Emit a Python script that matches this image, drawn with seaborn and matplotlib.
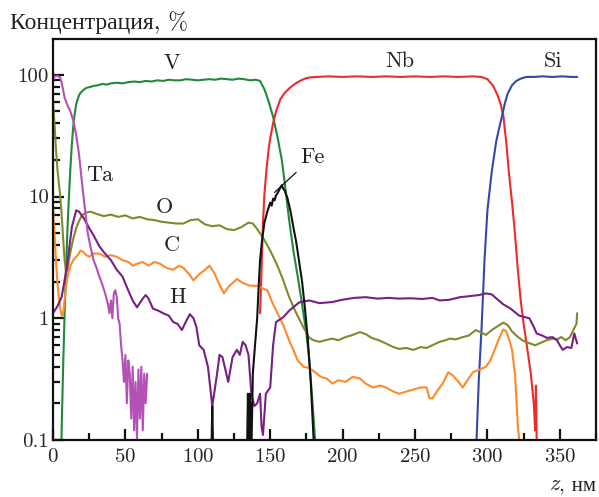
import matplotlib
matplotlib.use("Agg")
import matplotlib.pyplot as plt
import seaborn as sns
import pandas as pd
from matplotlib.ticker import FixedLocator, NullFormatter

# depth profile, z in nm, concentration in %
v_z = [5.8, 7, 8, 9, 10, 11, 12, 13, 14, 15, 16, 17, 18, 19, 21, 23, 25, 28, 31, 34, 37, 40, 44,
       48, 52, 56, 60, 64, 68, 72, 76, 80, 84, 88, 92, 96, 100, 104, 108, 112, 116, 120, 124,
       128, 132, 136, 140, 143, 146, 149, 152, 155, 158, 160, 163, 166, 169, 172, 175, 177, 179, 181]
v_c = [0.1, 0.4, 1.1, 2.6, 5.5, 10, 17, 27, 38, 48, 57, 63, 68, 71, 75, 78, 79, 81, 82, 84, 83, 85,
       86, 85, 87, 88, 87, 89, 88, 90, 89, 91, 90, 90, 92, 91, 90, 91, 92, 91, 93, 92, 91, 93, 92,
       90, 91, 89, 76, 60, 45, 31, 20, 13, 6.5, 3.6, 2.2, 1.3, 0.75, 0.45, 0.22, 0.1]

ta_z = [0, 1, 3, 5, 6, 7, 8, 10, 12, 14, 16, 18, 20, 22, 24, 26, 28, 30, 32, 34, 36, 38, 39, 40,
        41, 42, 43, 44, 45, 46, 47, 48, 49, 50, 51, 52, 53, 54, 55, 56, 57, 58, 59, 60, 61, 62,
        63, 64, 65]
ta_c = [90, 97, 98, 95, 85, 75, 65, 56, 50, 42, 32, 22, 13, 8, 5, 3.8, 3.0, 2.6, 2.2, 1.9, 1.6,
        1.3, 1.1, 1.4, 1.0, 1.6, 1.7, 1.5, 1.0, 0.9, 0.6, 0.45, 0.3, 0.5, 0.2, 0.45, 0.35, 0.15,
        0.4, 0.12, 0.3, 0.1, 0.38, 0.15, 0.4, 0.12, 0.35, 0.2, 0.35]

o_z = [0, 1, 2, 3, 4, 5, 6, 7, 8, 9, 10, 12, 14, 16, 18, 20, 23, 26, 30, 35, 40, 45, 50, 55, 60,
       65, 70, 75, 80, 85, 90, 95, 100, 105, 110, 115, 120, 125, 130, 135, 138, 141, 145, 150,
       155, 159, 163, 168, 173, 177, 180, 184, 188, 193, 197, 202, 207, 212, 216, 220, 225, 230,
       235, 239, 244, 249, 254, 258, 262, 267, 271, 274, 278, 283, 287, 292, 296, 299, 303, 307,
       311, 314, 317, 320, 324, 328, 333, 337, 341, 345, 348, 351, 354, 357, 360, 361.5, 362]
o_c = [60, 40, 25, 17, 13, 10, 7, 4.5, 3, 2.4, 2.5, 3.5, 4.5, 5.5, 6.3, 7.0, 7.4, 7.5, 7.2, 6.9,
       7.1, 6.8, 7.0, 6.6, 6.8, 6.5, 6.4, 6.2, 6.1, 6.0, 6.0, 6.4, 6.5, 5.9, 5.7, 5.8, 5.4, 5.3,
       5.6, 6.1, 6.0, 5.4, 4.6, 3.6, 2.7, 2.05, 1.5, 1.1, 0.84, 0.69, 0.66, 0.64, 0.66, 0.68,
       0.66, 0.7, 0.73, 0.77, 0.74, 0.69, 0.66, 0.62, 0.58, 0.56, 0.57, 0.55, 0.58, 0.57, 0.6,
       0.64, 0.66, 0.68, 0.67, 0.7, 0.72, 0.8, 0.76, 0.73, 0.8, 0.86, 0.92, 0.88, 0.78, 0.72,
       0.66, 0.63, 0.6, 0.63, 0.66, 0.68, 0.67, 0.7, 0.66, 0.7, 0.83, 0.9, 1.1]

c_z = [0, 1, 2, 3, 4, 5, 6, 7, 8, 9, 10, 12, 14, 17, 19, 21, 23, 25, 28, 32, 36, 40, 44, 48, 52,
       55, 58, 62, 66, 70, 74, 78, 83, 87, 90, 94, 97, 101, 105, 108, 111, 114, 118, 121, 124,
       127, 131, 136, 141, 145, 148, 152, 155, 159, 163, 166, 169, 173, 177, 181, 185, 189, 193,
       197, 202, 207, 212, 216, 221, 226, 230, 235, 239, 244, 249, 254, 258, 260, 262, 265, 269,
       273, 276, 280, 283, 287, 290, 295, 299, 302, 305, 308, 311, 313, 315, 317, 319, 320, 321, 322]
c_c = [8, 5, 3, 2, 1.5, 1.2, 1.05, 1.1, 1.4, 1.8, 2.2, 2.7, 3.0, 3.3, 3.6, 3.5, 3.3, 3.2, 3.4,
       3.4, 3.2, 3.3, 3.2, 3.0, 2.9, 2.7, 2.8, 2.9, 2.7, 2.9, 2.8, 2.6, 2.5, 2.7, 2.6, 2.3, 2.05,
       2.3, 2.5, 2.7, 2.4, 2.0, 1.6, 1.8, 1.95, 2.1, 1.95, 1.85, 1.85, 1.75, 1.7, 1.3, 1.1, 0.88,
       0.66, 0.55, 0.45, 0.4, 0.39, 0.36, 0.33, 0.32, 0.29, 0.31, 0.3, 0.33, 0.32, 0.29, 0.27,
       0.28, 0.27, 0.25, 0.24, 0.25, 0.26, 0.27, 0.27, 0.22, 0.22, 0.25, 0.29, 0.36, 0.34, 0.3,
       0.27, 0.32, 0.36, 0.38, 0.4, 0.45, 0.55, 0.68, 0.81, 0.78, 0.67, 0.55, 0.35, 0.22, 0.13, 0.1]

h_z = [0, 3, 6, 9.5, 13, 16, 18, 21, 25, 28, 32, 35, 40, 44, 48, 51, 55, 58, 62, 64, 66, 69, 73,
       76, 80, 83, 86, 89, 92, 94.5, 97, 99, 101, 104, 107, 110, 113, 115, 117, 119, 121, 124,
       127, 129, 131, 133, 135, 137, 139, 141, 143, 144, 145, 147, 150, 152, 154, 159, 163, 170,
       177, 184, 193, 200, 208, 216, 224, 232, 239, 247, 255, 262, 267, 274, 281, 288, 294, 299,
       303, 306, 311, 316, 322, 326, 329, 332, 334, 338, 341, 345, 348, 350, 352, 355, 358, 360, 362]
h_c = [1.1, 1.25, 1.5, 2.6, 5.6, 7.7, 7.5, 6.7, 5.5, 4.8, 3.9, 3.5, 3.0, 2.5, 2.2, 1.8, 1.4, 1.23,
       1.45, 1.55, 1.45, 1.2, 1.15, 1.1, 1.05, 0.93, 0.9, 0.8, 0.95, 1.08, 1.0, 0.85, 0.6, 0.55,
       0.4, 0.19, 0.33, 0.5, 0.48, 0.38, 0.3, 0.48, 0.55, 0.5, 0.64, 0.6, 0.5, 0.24, 0.19, 0.2,
       0.24, 0.13, 0.11, 0.24, 0.27, 0.6, 0.93, 1.02, 1.15, 1.35, 1.4, 1.33, 1.36, 1.42, 1.47,
       1.49, 1.45, 1.47, 1.45, 1.46, 1.44, 1.47, 1.4, 1.42, 1.49, 1.52, 1.55, 1.6, 1.57, 1.46,
       1.3, 1.2, 1.05, 1.02, 1.0, 0.85, 0.75, 0.72, 0.69, 0.7, 0.66, 0.6, 0.55, 0.58, 0.57, 0.75, 0.62]

fe_z = [137, 138, 139.5, 141, 142, 143, 144.5, 146, 148, 150, 151, 152, 153, 154, 155, 156, 157,
        158, 159, 160, 162, 164, 166, 168, 170, 172, 174, 176, 178, 180]
fe_c = [0.08, 0.35, 0.6, 1.0, 1.8, 3.0, 4.5, 6.1, 7.5, 8.9, 8.4, 9.6, 9.3, 10.2, 10.6, 11.2, 11.8,
        12.4, 11.6, 11.2, 9.6, 7.6, 5.6, 4.2, 2.9, 2.0, 1.2, 0.66, 0.3, 0.1]
fe_spike1_z = [109.4, 110, 110.6]
fe_spike1_c = [0.08, 0.19, 0.08]
fe_spike2_z = [134, 134.6, 135.2, 135.8, 136.4, 137]
fe_spike2_c = [0.08, 0.24, 0.09, 0.24, 0.1, 0.2]

nb_z = [143, 144, 145, 146, 147.5, 149, 150, 152, 154, 157, 160, 163.5, 167, 170.5, 174, 177,
        182, 190, 200, 210, 220, 230, 240, 250, 260, 270, 280, 290, 296, 300, 304, 307, 309, 311,
        313, 315, 317, 319, 321, 323, 325, 327, 330, 332, 333, 333.5, 334]
nb_c = [1.1, 2.5, 6, 10.5, 17, 25, 30, 40, 50, 63, 71, 78, 84, 89, 93, 95, 96, 97, 96, 97, 96, 97,
        96, 97, 96, 97, 96, 97, 96, 92, 81, 68, 58, 46, 28, 15, 9, 5, 2.5, 1.4, 0.9, 0.62, 0.35,
        0.2, 0.12, 0.28, 0.1]

si_z = [292.5, 294, 296, 298, 300, 303, 306, 308, 310.5, 312, 314, 317, 320, 323, 327, 332, 338,
        345, 352, 358, 362]
si_c = [0.1, 0.3, 0.85, 3.0, 7.7, 16, 28, 36, 48, 58, 70, 82, 89, 93, 96, 96, 97, 96, 97, 96, 96]

series = [
    (v_z, v_c, "#23893a"),
    (nb_z, nb_c, "#ee2a2a"),
    (si_z, si_c, "#3447a8"),
    (o_z, o_c, "#7f8a2c"),
    (c_z, c_c, "#ff8a2a"),
    (h_z, h_c, "#781f84"),
    (ta_z, ta_c, "#b551b5"),
    (fe_z, fe_c, "#111111"),
    (fe_spike1_z, fe_spike1_c, "#111111"),
    (fe_spike2_z, fe_spike2_c, "#111111"),
]

labels = [("V", 82, 125), ("Nb", 239.5, 130), ("Si", 345, 130), ("Ta", 32.5, 14.9),
          ("O", 77, 8.1), ("C", 82, 4.0), ("H", 86, 1.49)]

sns.set_style("ticks")
plt.rcParams['font.family'] = ['cmr10', 'Liberation Serif']
plt.rcParams['axes.formatter.use_mathtext'] = True

fig = plt.figure(figsize=(5.99, 4.97), dpi=100)
ax = fig.add_axes([0.0885, 0.1147, 0.9065, 0.807])

for z, c, col in series:
    df = pd.DataFrame({"z": z, "c": c})
    sns.lineplot(data=df, x="z", y="c", ax=ax, color=col, lw=1.5,
                 estimator=None, sort=False)

ax.set_yscale("log")
ax.set_xlim(0, 375)
ax.set_ylim(0.1, 197)

ax.set_yticks([0.1, 1, 10, 100])
ax.set_yticklabels(["0.1", "1", "10", "100"])
ax.yaxis.set_minor_locator(FixedLocator([m * 10.0 ** e for e in (-1, 0, 1) for m in range(2, 10)]))
ax.yaxis.set_minor_formatter(NullFormatter())
ax.set_xticks(range(0, 351, 50))
ax.xaxis.set_minor_locator(FixedLocator(range(25, 376, 50)))

ax.tick_params(which="both", direction="in", top=False, right=False, width=1.6, labelsize=15,
               color="#111111")
ax.tick_params(which="major", length=8)
ax.tick_params(which="minor", length=5)
ax.tick_params(axis="x", pad=6)
ax.tick_params(axis="y", pad=3)
for s in ax.spines.values():
    s.set_linewidth(1.6)
    s.set_color("#111111")

ax.set_xlabel("")
ax.set_ylabel("")

for name, x, y in labels:
    ax.text(x, y, name, ha="center", va="center", fontsize=16, color="#222222")

ax.annotate("Fe", xy=(153, 10.8), xytext=(179, 20.9), ha="center", va="center",
            fontsize=16, color="#222222",
            arrowprops=dict(arrowstyle="-", lw=0.9, color="#111111", shrinkA=2, shrinkB=0))

fig.text(0.017, 0.954, "Концентрация, %", ha="left", va="center", fontsize=17, color="#222222")

# x-axis label: italic z, then ", нм"
unit = fig.text(0.995, 0.014, ", нм", ha="right", va="baseline", fontsize=15, color="#222222")
ax.annotate("z", xy=(0, 0.014), xycoords=(unit, "figure fraction"), ha="right", va="baseline",
            fontsize=16, color="#222222", family="cmmi10", annotation_clip=False)

fig.savefig("out.png", dpi=100)
